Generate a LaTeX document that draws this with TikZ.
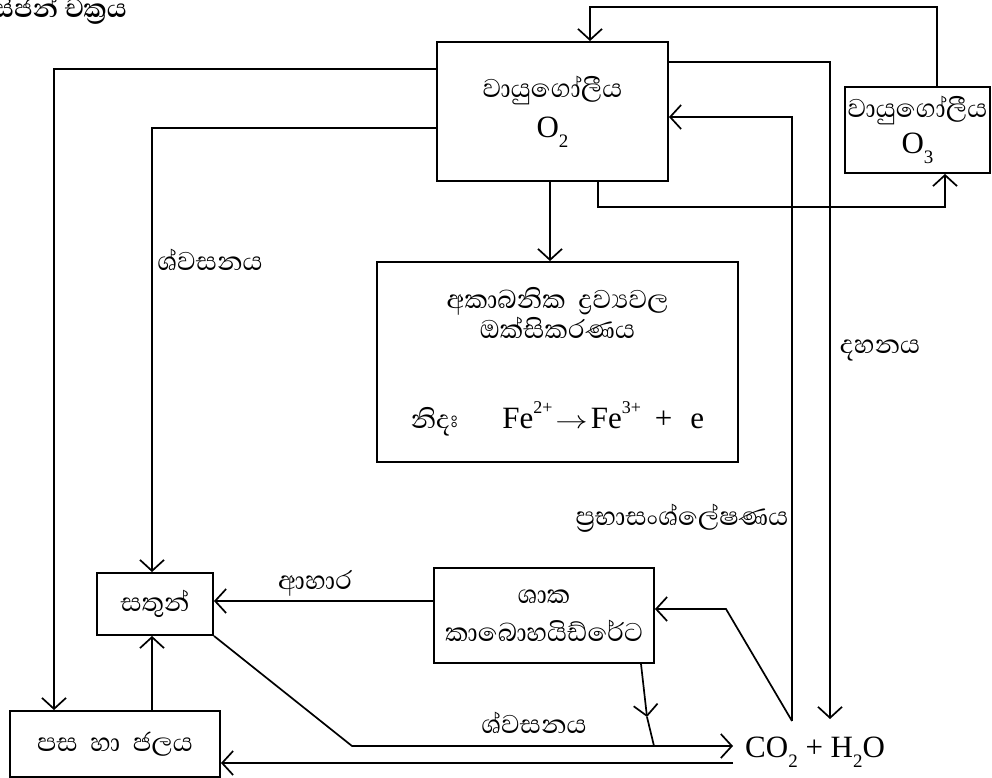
\documentclass[tikz,border=0pt]{standalone}
\usepackage{fontspec}
\usepackage{graphicx}
\setmainfont{Liberation Serif}
\newfontfamily\sinfont[Script=Sinhala]{Abhaya Libre}
\usetikzlibrary{arrows.meta}
\newcommand{\sinsize}{\fontsize{33}{38}\selectfont}
\newcommand{\latsize}{\fontsize{31}{34}\selectfont}
\newcommand{\chsub}[1]{\raisebox{-0.32em}{\fontsize{19}{19}\selectfont #1}}
\newcommand{\chsup}[1]{\raisebox{0.5em}{\fontsize{18}{18}\selectfont #1}}

\begin{document}
\begin{tikzpicture}[
  x=1pt, y=-1pt,
  cyclebox/.style={
    draw,
    line width=1.9pt,
    inner sep=0pt,
    align=center,
    font=\sinfont\sinsize
  },
  sinlabel/.style={inner sep=0pt, font=\sinfont\sinsize},
  cyclearrow/.style={-{Straight Barb[length=11pt,width=24pt,line width=1.7pt]}, line width=1.7pt}
]
\useasboundingbox (0,0) rectangle (992,778);
% boxes
\node[cyclebox, minimum width=231pt, minimum height=139pt] (o2) at (552.5,111.5) {වායුගෝලීය\\[2pt]{\rmfamily\latsize O\chsub{2}}};
\node[cyclebox, minimum width=145pt, minimum height=86pt] (o3) at (917.5,130) {වායුගෝලීය\\[-2pt]{\rmfamily\latsize O\chsub{3}}};
\node[cyclebox, minimum width=361pt, minimum height=200pt] (inorg) at (557.5,362) {අකාබනික\ \ ද්‍රව්‍යවල\\[-8pt]ඔක්සිකරණය\\[52pt]නිදඃ\hspace{44pt}{\rmfamily\latsize Fe\chsup{2+}\hspace{3pt}\scalebox{1.3}[1]{$\rightarrow$}\hspace{3pt}Fe\chsup{3+}\hspace{14pt}+\hspace{18pt}e}};
\node[cyclebox, minimum width=116pt, minimum height=62pt] (sathun) at (155,604) {සතුන්};
\node[cyclebox, minimum width=210pt, minimum height=66pt] (pasa) at (115,744) {පස\ \ හා\ \ ජලය};
\node[cyclebox, minimum width=220pt, minimum height=95pt] (shaka) at (544,615.5) {ශාක\\කාබොහයිඩ්රේට};
\node[anchor=west, inner xsep=12pt, inner ysep=0pt, font=\latsize] (co2) at (733,752) {CO\chsub{2} + H\chsub{2}O};
\node[anchor=east, inner sep=0pt, font=\sinfont\bfseries\sinsize] (title) at (127,10) {ඔක්සිජන් චක්‍රය};
% labels
\node[sinlabel] (lresp) at (210,260) {ශ්වසනය};
\node[sinlabel] (lburn) at (880,350) {දහනය};
\node[sinlabel] (lphoto) at (682,518) {ප්‍රභාසංශ්ලේෂණය};
\node[sinlabel] (lfood) at (315,583) {ආහාර};
\node[sinlabel] (lresp2) at (534,723) {ශ්වසනය};
% bends
\coordinate (loopR) at (937,7);
\coordinate (loopL) at (590,7);
\coordinate (burnT) at (830,62);
\coordinate (burnB) at (830,719);
\coordinate (photoT) at (792,117);
\coordinate (photoB) at (792,721);
\coordinate (photoK) at (726,609);
\coordinate (ozL) at (598,207);
\coordinate (ozR) at (945,207);
\coordinate (oxid) at (550,200);
\coordinate (soilC) at (54,69);
\coordinate (respC) at (152,128);
\coordinate (food) at (433,601);
\coordinate (respK) at (352,746);
\coordinate (shakaS) at (641,663);
\coordinate (shakaM) at (647,717);
\coordinate (shakaE) at (654,746);
\coordinate (backY) at (0,763);
% connectors
\draw[cyclearrow] (o3.north -| loopR) -- (loopR) -- (loopL) -- (o2.north -| loopL);
\draw[cyclearrow] (o2.east |- burnT) -- (burnT) -- (burnB);
\draw[cyclearrow] (photoB) -- (photoT) -- (o2.east |- photoT);
\draw[cyclearrow] (photoB) -- (photoK) -- (shaka.east |- photoK);
\draw[cyclearrow] (o2.south -| ozL) -- (ozL) -- (ozR) -- (o3.south -| ozR);
\draw[cyclearrow] (o2.south -| oxid) -- (inorg.north -| oxid);
\draw[cyclearrow] (o2.west |- soilC) -- (soilC) -- (pasa.north -| soilC);
\draw[cyclearrow] (o2.west |- respC) -- (respC) -- (sathun.north -| respC);
\draw[cyclearrow] (shaka.west |- food) -- (sathun.east |- food);
\draw[cyclearrow] (pasa.north -| respC) -- (sathun.south -| respC);
\draw[cyclearrow] (sathun.south east) -- (respK) -- (co2.west |- respK);
\draw[cyclearrow] (shaka.south -| shakaS) -- (shakaM);
\draw[line width=1.7pt] (shakaM) -- (shakaE);
\draw[cyclearrow] (co2.west |- backY) -- (pasa.east |- backY);
\end{tikzpicture}
\end{document}
